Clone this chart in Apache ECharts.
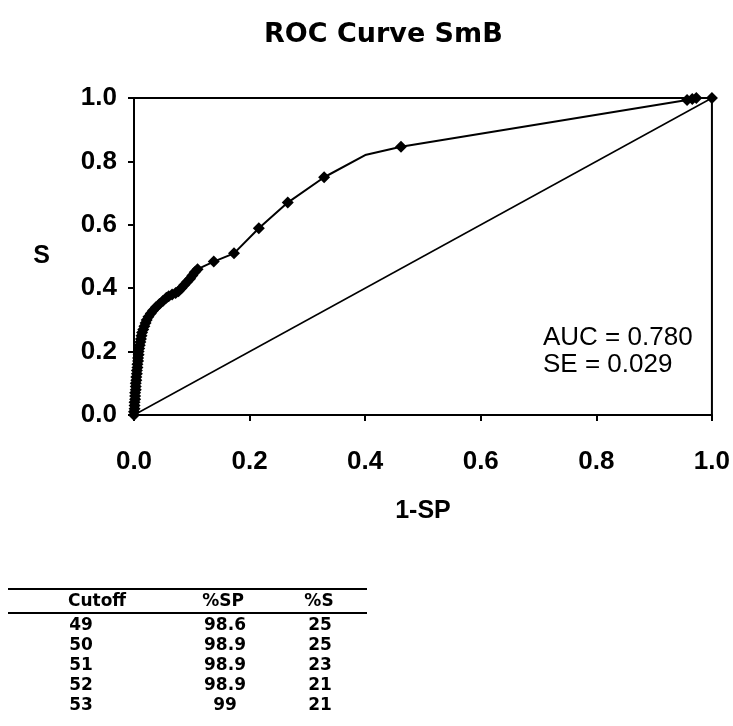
<!DOCTYPE html>
<html lang="en">
<head>
    <meta charset="UTF-8">
    <title>ROC Curve SmB</title>
    <script src="https://cdn.jsdelivr.net/npm/echarts@6/dist/echarts.min.js"></script>
</head>
<style>
    body{
        width: 100%;
        height: 100%;
        margin: 0;
        padding: 0;
        background: #fff;
    }
</style>
<body>
<div id="main" style="width: 733px;height:726px;"></div>
<script>
    // ROC points (1-SP, S)
    var fpr = [0, 0, 0.001, 0.001, 0.001, 0.002, 0.002, 0.002, 0.003, 0.003, 0.003, 0.004, 0.004, 0.005,
        0.005, 0.006, 0.006, 0.007, 0.007, 0.008, 0.008, 0.009, 0.010, 0.011, 0.012, 0.013, 0.014,
        0.016, 0.018, 0.020, 0.022, 0.025, 0.029, 0.033, 0.038, 0.044, 0.050, 0.056, 0.060, 0.066,
        0.072, 0.077, 0.082, 0.087, 0.092, 0.097, 0.101, 0.105, 0.110,
        0.138, 0.173, 0.216, 0.266, 0.329, 0.400, 0.462, 0.957, 0.966, 0.973, 1.0];
    var sens = [0, 0.01, 0.02, 0.03, 0.04, 0.05, 0.06, 0.07, 0.08, 0.09, 0.10, 0.11, 0.12, 0.13,
        0.14, 0.15, 0.16, 0.17, 0.18, 0.19, 0.20, 0.21, 0.22, 0.23, 0.24, 0.25, 0.26,
        0.27, 0.28, 0.29, 0.30, 0.31, 0.32, 0.33, 0.34, 0.35, 0.36, 0.37, 0.375, 0.38,
        0.385, 0.39, 0.40, 0.41, 0.42, 0.43, 0.44, 0.45, 0.46,
        0.484, 0.51, 0.589, 0.67, 0.75, 0.82, 0.846, 0.994, 0.997, 1.0, 1.0];
    var noMarker = [0.400]; // bend in the line without a diamond
    var diagX = [0, 1];
    var diagY = [0, 1];

    // table under the chart
    var tableHead = ['Cutoff', '%SP', '%S'];
    var cutoff = ['49', '50', '51', '52', '53'];
    var pctSP = ['98.6', '98.9', '98.9', '98.9', '99'];
    var pctS = ['25', '25', '23', '21', '21'];

    var rocData = [];
    for (var i = 0; i < fpr.length; i++) {
        var p = {value: [fpr[i], sens[i]]};
        if (noMarker.indexOf(fpr[i]) >= 0) p.symbolSize = 0;
        rocData.push(p);
    }
    var diagData = [];
    for (var i = 0; i < diagX.length; i++) diagData.push([diagX[i], diagY[i]]);

    var FONT = '"Liberation Sans", Arial, sans-serif';
    var WIDE = '"DejaVu Sans", sans-serif';

    // table graphic
    var colX = [81, 225, 320];
    var headX = [97, 223, 319];
    var graphics = [
        {type: 'text', left: 543, top: 324, style: {text: 'AUC = 0.780\nSE = 0.029', font: '26px ' + FONT, fill: '#000', lineHeight: 27}},
        {type: 'line', shape: {x1: 8, y1: 589, x2: 367, y2: 589}, style: {stroke: '#000', lineWidth: 2}},
        {type: 'line', shape: {x1: 8, y1: 613, x2: 367, y2: 613}, style: {stroke: '#000', lineWidth: 2}}
    ];
    for (var c = 0; c < tableHead.length; c++) {
        graphics.push({type: 'text', x: headX[c], y: 602, style: {text: tableHead[c], font: 'bold 17px ' + WIDE,
            fill: '#000', textAlign: 'center', textVerticalAlign: 'middle'}});
    }
    var cols = [cutoff, pctSP, pctS];
    for (var c = 0; c < cols.length; c++) {
        for (var r = 0; r < cols[c].length; r++) {
            graphics.push({type: 'text', x: colX[c], y: 626 + r * 20, style: {text: cols[c][r], font: 'bold 17px ' + WIDE,
                fill: '#000', textAlign: 'center', textVerticalAlign: 'middle'}});
        }
    }

    var axisCommon = {
        type: 'value',
        min: 0,
        max: 1,
        interval: 0.2,
        axisLine: {show: true, lineStyle: {color: '#000', width: 2}},
        axisTick: {show: true, inside: false, length: 6, lineStyle: {color: '#000', width: 2}},
        splitLine: {show: false},
        nameTextStyle: {color: '#000', fontFamily: FONT, fontWeight: 'bold', fontSize: 25}
    };

    var chart = echarts.init(document.getElementById('main'));
    var option = {
        animation: false,
        backgroundColor: '#fff',
        title: {
            text: 'ROC Curve SmB',
            left: 259,
            top: 16,
            textStyle: {color: '#000', fontFamily: WIDE, fontWeight: 'bold', fontSize: 27}
        },
        grid: {
            left: 134, right: 16, top: 98, bottom: 311,
            show: true, borderColor: '#000', borderWidth: 2
        },
        xAxis: Object.assign({}, axisCommon, {
            name: '1-SP',
            nameLocation: 'middle',
            nameGap: 84,
            axisLabel: {margin: 34, color: '#000', fontFamily: FONT, fontWeight: 'bold', fontSize: 26,
                formatter: function (v) { return v.toFixed(1); }}
        }),
        yAxis: Object.assign({}, axisCommon, {
            name: 'S',
            nameLocation: 'middle',
            nameRotate: 0,
            nameGap: 84,
            axisLabel: {margin: 17, color: '#000', fontFamily: FONT, fontWeight: 'bold', fontSize: 26,
                formatter: function (v) { return v.toFixed(1); }}
        }),
        series: [
            {
                name: 'ROC',
                type: 'line',
                data: rocData,
                symbol: 'diamond',
                symbolSize: 12,
                clip: false,
                itemStyle: {color: '#000'},
                lineStyle: {color: '#000', width: 2}
            },
            {
                name: 'chance',
                type: 'line',
                data: diagData,
                symbol: 'none',
                lineStyle: {color: '#000', width: 1.5}
            }
        ],
        graphic: graphics
    };
    chart.setOption(option);
</script>
</body>
</html>
